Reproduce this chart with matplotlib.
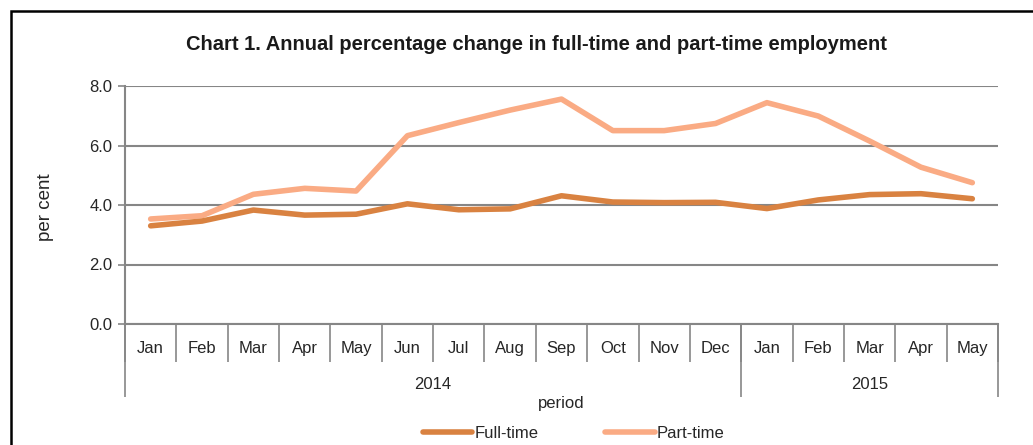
import numpy as np
import matplotlib
matplotlib.use('Agg')
import matplotlib.pyplot as plt
import matplotlib.patches as patches
import matplotlib.transforms as transforms
from matplotlib import font_manager

# dane
miesiace = ['Jan', 'Feb', 'Mar', 'Apr', 'May', 'Jun', 'Jul', 'Aug', 'Sep', 'Oct', 'Nov', 'Dec',
            'Jan', 'Feb', 'Mar', 'Apr', 'May']
lata = ['2014', '2015']
ile_w_roku = [12, 5]
pelny_etat = [3.30, 3.46, 3.83, 3.66, 3.69, 4.04, 3.84, 3.87, 4.31, 4.10, 4.08, 4.09,
              3.88, 4.17, 4.35, 4.38, 4.21]
niepelny_etat = [3.53, 3.64, 4.36, 4.56, 4.47, 6.33, 6.77, 7.19, 7.56, 6.50, 6.50, 6.74,
                 7.44, 6.99, 6.15, 5.27, 4.75]
yticki = [0.0, 2.0, 4.0, 6.0, 8.0]

dostepne = set(f.name for f in font_manager.fontManager.ttflist)
if 'Liberation Sans Narrow' in dostepne:
    waska = 'Liberation Sans Narrow'
    rozmiar = 14.5
    rozmiar_tytulu = 16.5
else:
    waska = 'Liberation Sans'
    rozmiar = 12
    rozmiar_tytulu = 14.5

plt.rcParams['font.family'] = [waska, 'DejaVu Sans']

szary = '#868686'
kolor_tekstu = '#262626'

fig = plt.figure(figsize=(10.33, 4.45), dpi=100)
ax = fig.add_axes([125 / 1033, 1 - 324 / 445, (998 - 125) / 1033, (324 - 86) / 445])

x = np.arange(len(miesiace))
ax.plot(x, pelny_etat, color='#D98241', lw=4.0, solid_capstyle='round', label='Full-time', zorder=3)
ax.plot(x, niepelny_etat, color='#FAAB84', lw=4.0, solid_capstyle='round', label='Part-time', zorder=2)

ax.set_xlim(-0.5, len(miesiace) - 0.5)
ax.set_ylim(0, 8)
ax.set_yticks(yticki)
ax.set_yticklabels(['%.1f' % v for v in yticki], fontsize=rozmiar, color=kolor_tekstu)
ax.tick_params(axis='y', length=5, width=1.2, color=szary, pad=4)
ax.grid(axis='y', color=szary, lw=1.5)
ax.set_axisbelow(True)
for s in ['top', 'right']:
    ax.spines[s].set_visible(False)
for s in ['left', 'bottom']:
    ax.spines[s].set_color(szary)
    ax.spines[s].set_linewidth(1.5)
ax.set_xticks([])

# os kategorii z dwoma poziomami
tr = transforms.blended_transform_factory(ax.transData, ax.transAxes)
granice = np.arange(len(miesiace) + 1) - 0.5
ax.vlines(granice, -0.16, 0, transform=tr, color=szary, lw=1.2, clip_on=False)
for i, m in enumerate(miesiace):
    ax.text(x[i], -0.105, m, transform=tr, ha='center', va='center', fontsize=rozmiar, color=kolor_tekstu)
poczatek = 0
granice_lat = [granice[0]]
for rok, n in zip(lata, ile_w_roku):
    srodek = (granice[poczatek] + granice[poczatek + n]) / 2
    ax.text(srodek, -0.253, rok, transform=tr, ha='center', va='center', fontsize=rozmiar, color=kolor_tekstu)
    poczatek += n
    granice_lat.append(granice[poczatek])
ax.vlines(granice_lat, -0.307, 0, transform=tr, color=szary, lw=1.2, clip_on=False)

ax.text(0.5, -0.335, 'period', transform=ax.transAxes, ha='center', va='center', fontsize=rozmiar, color=kolor_tekstu)
fig.text(45 / 1033, 1 - 207 / 445, 'per cent', rotation=90, ha='center', va='center',
         fontsize=13.5, family=['Liberation Sans', 'DejaVu Sans'], color=kolor_tekstu)

fig.text(536 / 1033, 1 - 44 / 445, 'Chart 1. Annual percentage change in full-time and part-time employment',
         ha='center', va='center', fontsize=rozmiar_tytulu, fontweight='bold', color='#1a1a1a')

ax.legend(loc='center', bbox_to_anchor=(574 / 1033, 1 - 433 / 445), bbox_transform=fig.transFigure,
          ncol=2, frameon=False, fontsize=rozmiar, handlelength=2.95, handletextpad=0.15, columnspacing=4.0,
          labelcolor=kolor_tekstu)

# ramka
fig.patches.append(patches.Rectangle((11 / 1033, -0.2), 1.2, 1.2 - 11 / 445, transform=fig.transFigure,
                                     fill=False, edgecolor='black', lw=1.8))

fig.savefig('out.png', dpi=100)
